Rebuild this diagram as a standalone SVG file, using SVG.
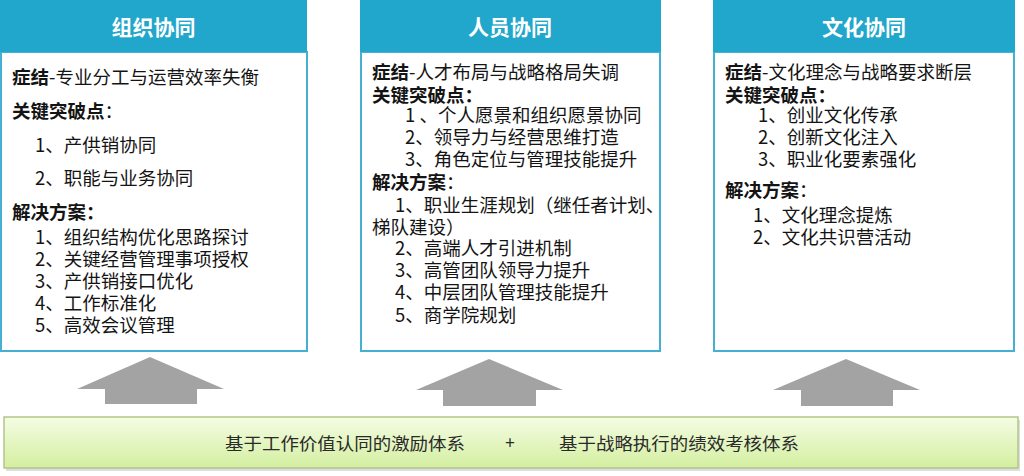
<svg xmlns="http://www.w3.org/2000/svg" width="1024" height="476" viewBox="0 0 1024 476">
<style>
.hd{fill:#21a7cc}
.box{fill:#ffffff;stroke:#45b0d1;stroke-width:2}
.ht{font-family:"Noto Sans CJK SC","Microsoft YaHei",sans-serif;font-size:21px;font-weight:bold;fill:#ffffff;text-anchor:middle}
.t{font-family:"Noto Sans CJK SC","Microsoft YaHei",sans-serif;font-size:18.5px;fill:#141414}
.b{font-weight:bold}
.n{font-weight:normal}
.arr{fill:#a3a3a3}
.bt{font-family:"Noto Sans CJK SC","Microsoft YaHei",sans-serif;font-size:17px;fill:#2a2a2a}
</style>
<defs>
<linearGradient id="gg" x1="0" y1="0" x2="0" y2="1">
<stop offset="0" stop-color="#f5fce4"/>
<stop offset="1" stop-color="#d3efa0"/>
</linearGradient>
</defs>
<rect width="1024" height="476" fill="#ffffff"/>

<g id="panel-org">
<rect class="box" x="1" y="52" width="306" height="299"/>
<rect class="hd" x="0" y="0" width="307" height="52"/>
<text class="ht" x="153.5" y="34.5">组织协同</text>
<text class="t" x="12" y="84"><tspan class="b">症结</tspan>-专业分工与运营效率失衡</text>
<text class="t" x="12" y="118"><tspan class="b">关键突破点</tspan>：</text>
<text class="t" x="35" y="152">1、产供销协同</text>
<text class="t" x="35" y="185">2、职能与业务协同</text>
<text class="t b" x="12" y="219">解决方案：</text>
<text class="t" x="35" y="244">1、组织结构优化思路探讨</text>
<text class="t" x="35" y="266">2、关键经营管理事项授权</text>
<text class="t" x="35" y="288">3、产供销接口优化</text>
<text class="t" x="35" y="310">4、工作标准化</text>
<text class="t" x="35" y="332">5、高效会议管理</text>
</g>

<g id="panel-people">
<rect class="box" x="361" y="52" width="299" height="299"/>
<rect class="hd" x="360" y="0" width="301" height="52"/>
<text class="ht" x="510" y="34.5">人员协同</text>
<text class="t" x="372" y="79"><tspan class="b">症结</tspan>-人才布局与战略格局失调</text>
<text class="t b" x="372" y="102">关键突破点：</text>
<text class="t" x="405" y="122">1 、个人愿景和组织愿景协同</text>
<text class="t" x="405" y="144">2、领导力与经营思维打造</text>
<text class="t" x="405" y="166">3、角色定位与管理技能提升</text>
<text class="t" x="372" y="189"><tspan class="b">解决方案</tspan>：</text>
<text class="t" x="395" y="212">1、职业生涯规划（继任者计划、</text>
<text class="t" x="372" y="234">梯队建设）</text>
<text class="t" x="395" y="255">2、高端人才引进机制</text>
<text class="t" x="395" y="277">3、高管团队领导力提升</text>
<text class="t" x="395" y="299">4、中层团队管理技能提升</text>
<text class="t" x="395" y="322">5、商学院规划</text>
</g>

<g id="panel-culture">
<rect class="box" x="714" y="52" width="300" height="299"/>
<rect class="hd" x="713" y="0" width="302" height="52"/>
<text class="ht" x="864" y="34.5">文化协同</text>
<text class="t" x="725" y="79"><tspan class="b">症结</tspan>-文化理念与战略要求断层</text>
<text class="t b" x="725" y="102">关键突破点：</text>
<text class="t" x="758" y="122">1、创业文化传承</text>
<text class="t" x="758" y="144">2、创新文化注入</text>
<text class="t" x="758" y="166">3、职业化要素强化</text>
<text class="t" x="725" y="197"><tspan class="b">解决方案</tspan>：</text>
<text class="t" x="753" y="222">1、文化理念提炼</text>
<text class="t" x="753" y="244">2、文化共识营活动</text>
</g>

<g id="connectors">
<polygon class="arr" points="150,357 224,389 197,389 197,404 105,404 105,389 77,389"/>
<polygon class="arr" points="489,359 563,390 536,390 536,406 443,406 443,390 416,390"/>
<polygon class="arr" points="846,359 920,390 893,390 893,406 801,406 801,390 773,390"/>
</g>

<g id="base">
<rect x="6" y="420" width="1014" height="51" fill="#c8c8c8" opacity="0.6"/>
<rect x="4" y="417" width="1014" height="51" fill="url(#gg)" stroke="#b3c68a" stroke-width="1.5"/>
<text class="bt" x="225" y="450" textLength="240" lengthAdjust="spacingAndGlyphs">基于工作价值认同的激励体系</text>
<text class="bt" x="510" y="449" text-anchor="middle">+</text>
<text class="bt" x="559" y="450" textLength="240" lengthAdjust="spacingAndGlyphs">基于战略执行的绩效考核体系</text>
</g>
</svg>
